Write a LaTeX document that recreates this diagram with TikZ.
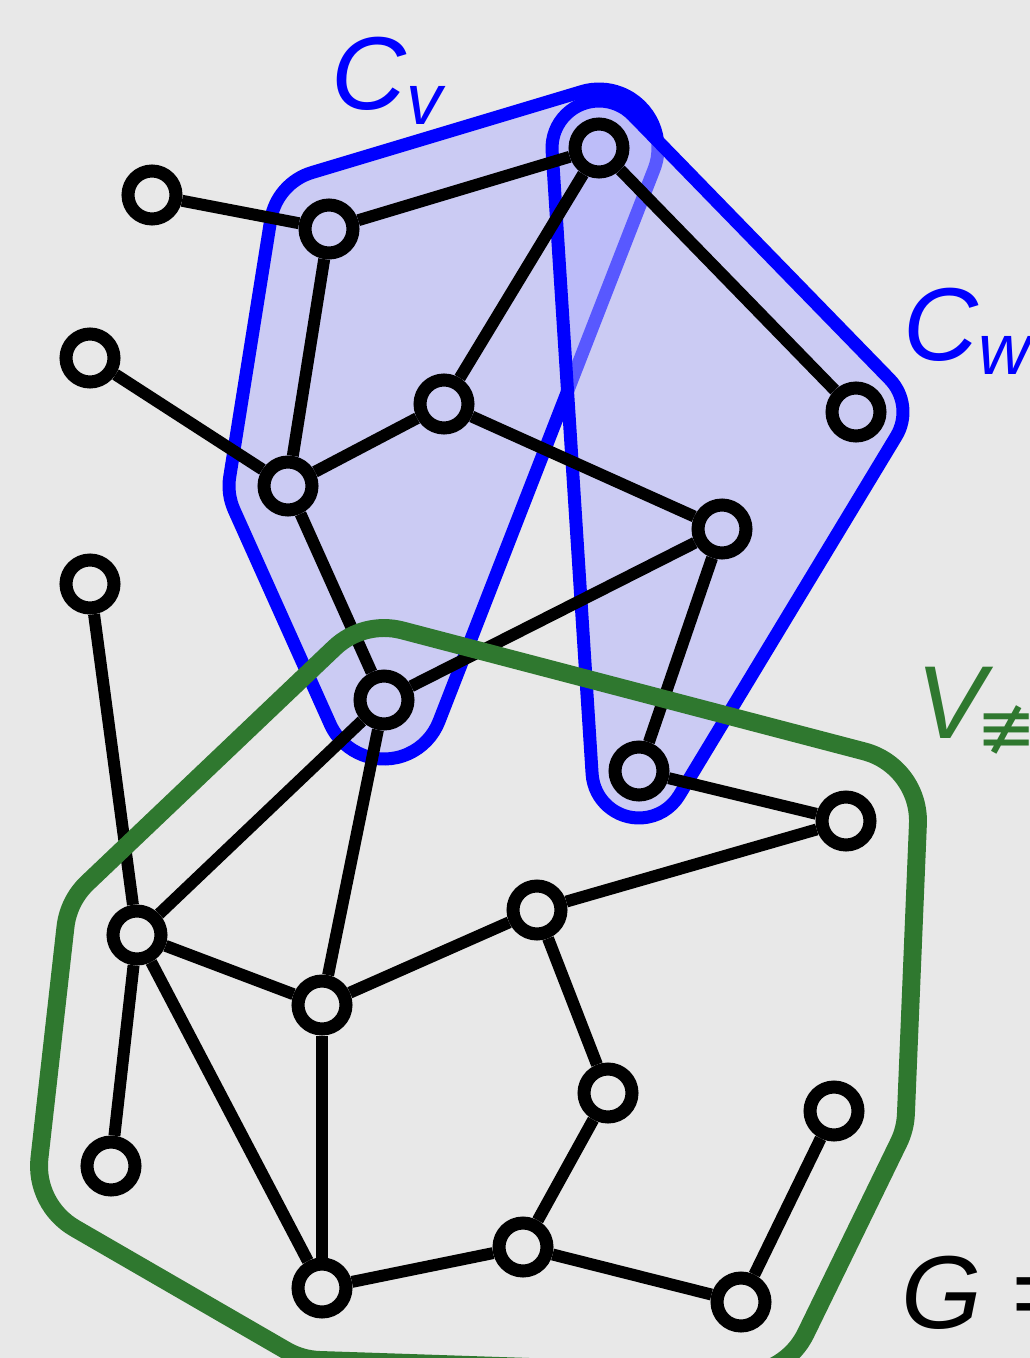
\documentclass[tikz,border=0pt]{standalone}
\usepackage{fontspec}
\setmainfont{Liberation Sans}
\newfontfamily\symfont{DejaVu Sans}
\usetikzlibrary{calc,backgrounds}
\definecolor{bggray}{RGB}{232,232,232}
\definecolor{hullblue}{RGB}{0,0,255}
\definecolor{hullfill}{RGB}{176,176,255}
\definecolor{vgreen}{RGB}{47,120,47}
% one rounded corner of an offset hull: prev, this, next, radius, connector
\newcommand{\hullcorner}[5]{%
  let \p1=($(#2.center)-(#1.center)$), \p2=($(#3.center)-(#2.center)$),
      \n1={atan2(\y1,\x1)-90},
      \n2={mod(atan2(\y2,\x2)-atan2(\y1,\x1)+720,360)} in
  #5 ($(#2.center)+(\n1:#4)$) arc[start angle=\n1, delta angle=\n2, radius=#4]}
\newcommand{\lblsub}[1]{\raisebox{-8pt}{\fontsize{41}{41}\selectfont #1}}

\begin{document}
\begin{tikzpicture}[x=0.02cm,y=0.02cm,
  vtx/.style={circle,draw=black,line width=7.4pt,inner sep=0pt,minimum size=0.96cm},
  edge/.style={line width=6.8pt},
  cvline/.style={draw=hullblue,line width=7.4pt,fill=hullfill,fill opacity=0.5},
  vline/.style={draw=vgreen,line width=10.2pt},
  lbl/.style={inner sep=0pt,anchor=base west,font=\fontsize{59}{70}\selectfont\itshape}]

\useasboundingbox (0,0) rectangle (1030,-1358);
\clip (0,0) rectangle (1030,-1358);

%% vertices
\foreach \i/\x/\y in {1/152/195, 2/329/229, 3/599/148, 4/90/358, 5/444/404,
    6/856/412, 7/288/486, 8/722/529, 9/90/584, 10/384/700, 11/639/771,
    12/846/821, 13/137/935, 14/537/910, 15/322/1005, 16/608/1093,
    17/834/1111, 18/111/1166, 19/322/1288, 20/523/1247, 21/741/1302}
  \node[vtx] (n\i) at (\x,-\y) {};

%% edges
\foreach \a/\b in {n1/n2, n2/n3, n2/n7, n3/n5, n3/n6, n4/n7, n5/n7, n5/n8,
    n7/n10, n8/n10, n8/n11, n9/n13, n10/n13, n10/n15, n11/n12, n12/n14,
    n13/n15, n13/n18, n13/n19, n14/n15, n14/n16, n15/n19, n16/n20,
    n19/n20, n20/n21, n17/n21}
  \draw[edge] (\a) -- (\b);

%% the two blue hulls
\begin{scope}[on background layer]
  \fill[bggray] (0,0) rectangle (1030,-1358);
  \draw[cvline] \hullcorner{n10}{n3}{n2}{1.18cm}{} \hullcorner{n3}{n2}{n7}{1.18cm}{--}
    \hullcorner{n2}{n7}{n10}{1.18cm}{--} \hullcorner{n7}{n10}{n3}{1.18cm}{--} -- cycle;
  \draw[cvline] \hullcorner{n11}{n6}{n3}{0.94cm}{} \hullcorner{n6}{n3}{n11}{0.94cm}{--}
    \hullcorner{n3}{n11}{n6}{0.94cm}{--} -- cycle;
\end{scope}

%% green hull on top
\draw[vline] \hullcorner{n12}{n10}{n13}{1.44cm}{} \hullcorner{n10}{n13}{n18}{1.44cm}{--}
  \hullcorner{n13}{n18}{n19}{1.44cm}{--} \hullcorner{n18}{n19}{n21}{1.44cm}{--}
  \hullcorner{n19}{n21}{n17}{1.44cm}{--} \hullcorner{n21}{n17}{n12}{1.44cm}{--}
  \hullcorner{n17}{n12}{n10}{1.44cm}{--} -- cycle;

%% labels
\node[lbl,text=hullblue] (labcv) at (331,-110) {C\lblsub{v}};
\node[lbl,text=hullblue] (labcw) at (903,-360) {C\lblsub{w}};
\node[lbl,text=vgreen] (labv) at (916,-738) {V\kern-5pt\lblsub{{\upshape\symfont ≢}(}};
\node[lbl] (labg) at (901,-1328) {G =};
\end{tikzpicture}
\end{document}
